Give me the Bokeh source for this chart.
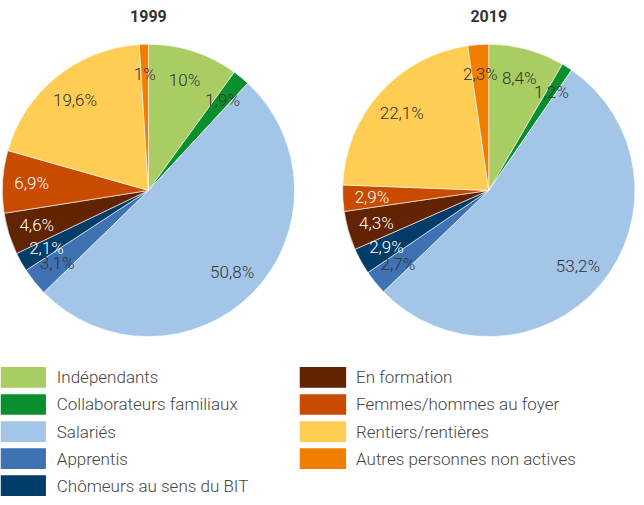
import math
from bokeh.plotting import figure
from bokeh.models import Range1d, ColumnDataSource
from bokeh.core.properties import value
from bokeh.embed import file_html
from bokeh.resources import INLINE

categories = ["Indépendants", "Collaborateurs familiaux", "Salariés", "Apprentis",
              "Chômeurs au sens du BIT", "En formation", "Femmes/hommes au foyer",
              "Rentiers/rentières", "Autres personnes non actives"]
values_1999 = [10.0, 1.9, 50.8, 3.1, 2.1, 4.6, 6.9, 19.6, 1.0]
values_2019 = [8.4, 1.2, 53.2, 2.7, 2.9, 4.3, 2.9, 22.1, 2.3]
years = ["1999", "2019"]
colors = ["#a9cd62", "#0b8f2e", "#a3c5e8", "#3f72b3", "#023c69",
          "#622300", "#c84b00", "#ffcd54", "#f07e00"]
label_colors_1999 = ["#333333", "#333333", "#333333", "#333333", "#ffffff",
                     "#ffffff", "#ffffff", "#333333", "#333333"]
label_colors_2019 = ["#333333", "#333333", "#333333", "#333333", "#ffffff",
                     "#ffffff", "#ffffff", "#333333", "#333333"]

W, H = 644, 505
FONT = value("Roboto Light")

p = figure(width=636, height=497, output_backend="svg", toolbar_location=None,
           x_range=Range1d(0, W), y_range=Range1d(0, H), min_border=0)
p.axis.visible = False
p.grid.visible = False
p.outline_line_color = None
p.background_fill_color = "white"
p.border_fill_color = "white"

R = 148.0
centers = [(149.8, H - 193.0), (494.4, H - 193.0)]


def fmt(v):
    if abs(v - round(v)) < 1e-9:
        return f"{int(round(v))}%"
    return f"{v:.1f}%".replace(".", ",")


for (cx, cy), year, vals, lcols in zip(centers, years,
                                        [values_1999, values_2019],
                                        [label_colors_1999, label_colors_2019]):
    total = sum(vals)
    starts, ends, lx, ly, labels = [], [], [], [], []
    cum = 0.0
    for v in vals:
        a0 = math.pi / 2 - 2 * math.pi * cum / total
        a1 = math.pi / 2 - 2 * math.pi * (cum + v) / total
        starts.append(a0)
        ends.append(a1)
        mid = (a0 + a1) / 2
        lx.append(cx + 0.8 * R * math.cos(mid))
        ly.append(cy + 0.8 * R * math.sin(mid))
        labels.append(fmt(v))
        cum += v
    src = ColumnDataSource(dict(start=starts, end=ends, color=colors,
                                lx=lx, ly=ly, label=labels, lc=lcols))
    p.wedge(x=cx, y=cy, radius=R, start_angle="start", end_angle="end",
            direction="clock", fill_color="color", line_color="white",
            line_width=0.6, source=src)
    p.text(x="lx", y="ly", text="label", text_color="lc", source=src,
           text_font=FONT, text_font_size="17px", text_align="center",
           text_baseline="middle")
    p.text(x=[cx], y=[H - 16], text=[year], text_font=value("Roboto"),
           text_font_style="bold", text_font_size="16px", text_color="#333333",
           text_align="center", text_baseline="middle")

# legend
row_y = [H - (383.0 + 27.5 * i) for i in range(5)]
leg_x, leg_y, leg_w, txt_x = [], [], [], []
for i, c in enumerate(categories):
    if i < 5:
        leg_x.append(23.0); leg_w.append(46.0); txt_x.append(57.0); leg_y.append(row_y[i])
    else:
        leg_x.append(326.5); leg_w.append(47.0); txt_x.append(360.0); leg_y.append(row_y[i - 5])
lsrc = ColumnDataSource(dict(x=leg_x, y=leg_y, w=leg_w, tx=txt_x, c=colors, t=categories))
p.rect(x="x", y="y", width="w", height=21, fill_color="c", line_color=None, source=lsrc)
p.text(x="tx", y="y", text="t", source=lsrc, text_font=FONT, text_font_size="17px",
       text_color="#444444", text_align="left", text_baseline="middle")

open("out.html", "w").write(file_html(p, INLINE))
